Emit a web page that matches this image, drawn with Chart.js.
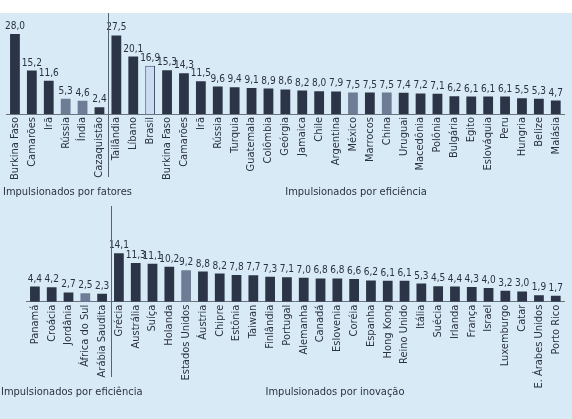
<!DOCTYPE html>
<html>
<head>
<meta charset="utf-8">
<script src="https://cdn.jsdelivr.net/npm/chart.js@4/dist/chart.umd.min.js"></script>
<style>
  body { margin: 0; background: #ffffff; }
  #wrap { position: relative; width: 572px; height: 419px; }
  #bg { position: absolute; left: 0; top: 13px; width: 572px; height: 406px; background: #d9eaf7; }
  canvas { position: absolute; left: 0; }
</style>
</head>
<body>
<div id="wrap">
  <div id="bg"></div>
  <canvas id="topChart" width="572" height="200" style="top:0"></canvas>
  <canvas id="bottomChart" width="572" height="219" style="top:200px"></canvas>
</div>
<script>
// Linha de cima
const factorsLabels = ["Burkina Faso", "Camarões", "Irã", "Rússia", "Índia", "Cazaquistão"];
const factorsValues = [28.0, 15.2, 11.6, 5.3, 4.6, 2.4];
const factorsKinds = ["n", "n", "n", "g", "g", "n"];

const effTopLabels = ["Tailândia", "Líbano", "Brasil", "Burkina Faso", "Camarões", "Irã", "Rússia", "Turquia",
  "Guatemala", "Colômbia", "Geórgia", "Jamaica", "Chile", "Argentina", "México", "Marrocos", "China",
  "Uruguai", "Macedônia", "Polônia", "Bulgária", "Egito", "Eslováquia", "Peru", "Hungria", "Belize", "Malásia"];
const effTopValues = [27.5, 20.1, 16.9, 15.3, 14.3, 11.5, 9.6, 9.4, 9.1, 8.9, 8.6, 8.2, 8.0, 7.9, 7.5, 7.5, 7.5,
  7.4, 7.2, 7.1, 6.2, 6.1, 6.1, 6.1, 5.5, 5.3, 4.7];
const effTopKinds = ["n", "n", "b", "n", "n", "n", "n", "n", "n", "n", "n", "n", "n", "n", "g", "n", "g",
  "n", "n", "n", "n", "n", "n", "n", "n", "n", "n"];

// Linha de baixo
const effBottomLabels = ["Panamá", "Croácia", "Jordânia", "África do Sul", "Arábia Saudita"];
const effBottomValues = [4.4, 4.2, 2.7, 2.5, 2.3];
const effBottomKinds = ["n", "n", "n", "g", "n"];

const innovLabels = ["Grécia", "Austrália", "Suíça", "Holanda", "Estados Unidos", "Áustria", "Chipre", "Estônia",
  "Taiwan", "Finlândia", "Portugal", "Alemanha", "Canadá", "Eslovenia", "Coréia", "Espanha", "Hong Kong",
  "Reino Unido", "Itália", "Suécia", "Irlanda", "França", "Israel", "Luxemburgo", "Catar", "E. Árabes Unidos", "Porto Rico"];
const innovValues = [14.1, 11.3, 11.1, 10.2, 9.2, 8.8, 8.2, 7.8, 7.7, 7.3, 7.1, 7.0, 6.8, 6.8, 6.6, 6.2, 6.1,
  6.1, 5.3, 4.5, 4.4, 4.3, 4.0, 3.2, 3.0, 1.9, 1.7];
const innovKinds = ["n", "n", "n", "n", "g", "n", "n", "n", "n", "n", "n", "n", "n", "n", "n", "n", "n",
  "n", "n", "n", "n", "n", "n", "n", "n", "n", "n"];

const fontName = "'Liberation Sans Narrow', 'DejaVu Sans Condensed', sans-serif";
const textColor = "#2a3242";
const fillFor = { n: "#2c3547", g: "#6e7d95", b: "#c9dcf2" };
const borderFor = { n: "#2c3547", g: "#6e7d95", b: "#3b4864" };

// Rótulos de valor e divisórias
const extrasPlugin = {
  id: "extras",
  afterDatasetsDraw(chart, args, opts) {
    const ctx = chart.ctx;
    const meta = chart.getDatasetMeta(0);
    const values = chart.data.datasets[0].data;
    ctx.save();
    ctx.fillStyle = textColor;
    ctx.font = "10px " + fontName;
    ctx.textAlign = "center";
    ctx.textBaseline = "alphabetic";
    meta.data.forEach(function (bar, i) {
      ctx.fillText(values[i].toFixed(1).replace(".", ","), bar.x, bar.y - 5);
    });

    // divisória entre grupos
    const x = chart.scales.x;
    const dx = Math.round((x.getPixelForValue(opts.split - 1) + x.getPixelForValue(opts.split)) / 2) + 0.5;
    ctx.strokeStyle = "#5b6371";
    ctx.lineWidth = 1;
    ctx.beginPath();
    ctx.moveTo(dx, opts.lineTop);
    ctx.lineTo(dx, opts.lineBottom);
    ctx.stroke();

    // títulos dos grupos
    ctx.font = "11px " + fontName;
    ctx.textBaseline = "middle";
    opts.titles.forEach(function (t) {
      ctx.textAlign = t.align;
      ctx.fillText(t.text, t.x, t.y);
    });
    ctx.restore();
  }
};

function makeChart(id, labels, values, kinds, cfg) {
  return new Chart(document.getElementById(id), {
    type: "bar",
    data: {
      labels: labels,
      datasets: [{
        data: values,
        backgroundColor: kinds.map(k => fillFor[k]),
        borderColor: kinds.map(k => borderFor[k]),
        borderWidth: kinds.map(k => k === "b" ? 1 : 0),
        barPercentage: 0.58,
        categoryPercentage: 1
      }]
    },
    options: {
      responsive: false,
      animation: false,
      layout: { padding: { left: cfg.left, right: 2.5, top: cfg.top, bottom: 0 } },
      plugins: {
        legend: { display: false },
        tooltip: { enabled: false },
        extras: cfg.extras
      },
      scales: {
        x: {
          afterFit: function (s) { s.height = cfg.axisHeight; },
          grid: { display: false, drawTicks: false },
          border: { display: true, color: "#6b7380", width: 1 },
          ticks: {
            autoSkip: false,
            minRotation: 90,
            maxRotation: 90,
            padding: 3,
            color: textColor,
            font: { family: fontName, size: 11 }
          }
        },
        y: { display: false, min: 0, max: cfg.max }
      }
    },
    plugins: [extrasPlugin]
  });
}

makeChart("topChart",
  factorsLabels.concat(effTopLabels),
  factorsValues.concat(effTopValues),
  factorsKinds.concat(effTopKinds),
  {
    left: 6.5, top: 14, max: 35, axisHeight: 86,
    extras: {
      split: factorsLabels.length, lineTop: 13, lineBottom: 177,
      titles: [
        { text: "Impulsionados por fatores", x: 3, y: 192, align: "left" },
        { text: "Impulsionados por eficiência", x: 356, y: 192, align: "center" }
      ]
    }
  });

makeChart("bottomChart",
  effBottomLabels.concat(innovLabels),
  effBottomValues.concat(innovValues),
  effBottomKinds.concat(innovKinds),
  {
    left: 26.5, top: 5.7, max: 28, axisHeight: 117.3,
    extras: {
      split: effBottomLabels.length, lineTop: 6, lineBottom: 177,
      titles: [
        { text: "Impulsionados por eficiência", x: 1, y: 192, align: "left" },
        { text: "Impulsionados por inovação", x: 335, y: 192, align: "center" }
      ]
    }
  });
</script>
</body>
</html>
